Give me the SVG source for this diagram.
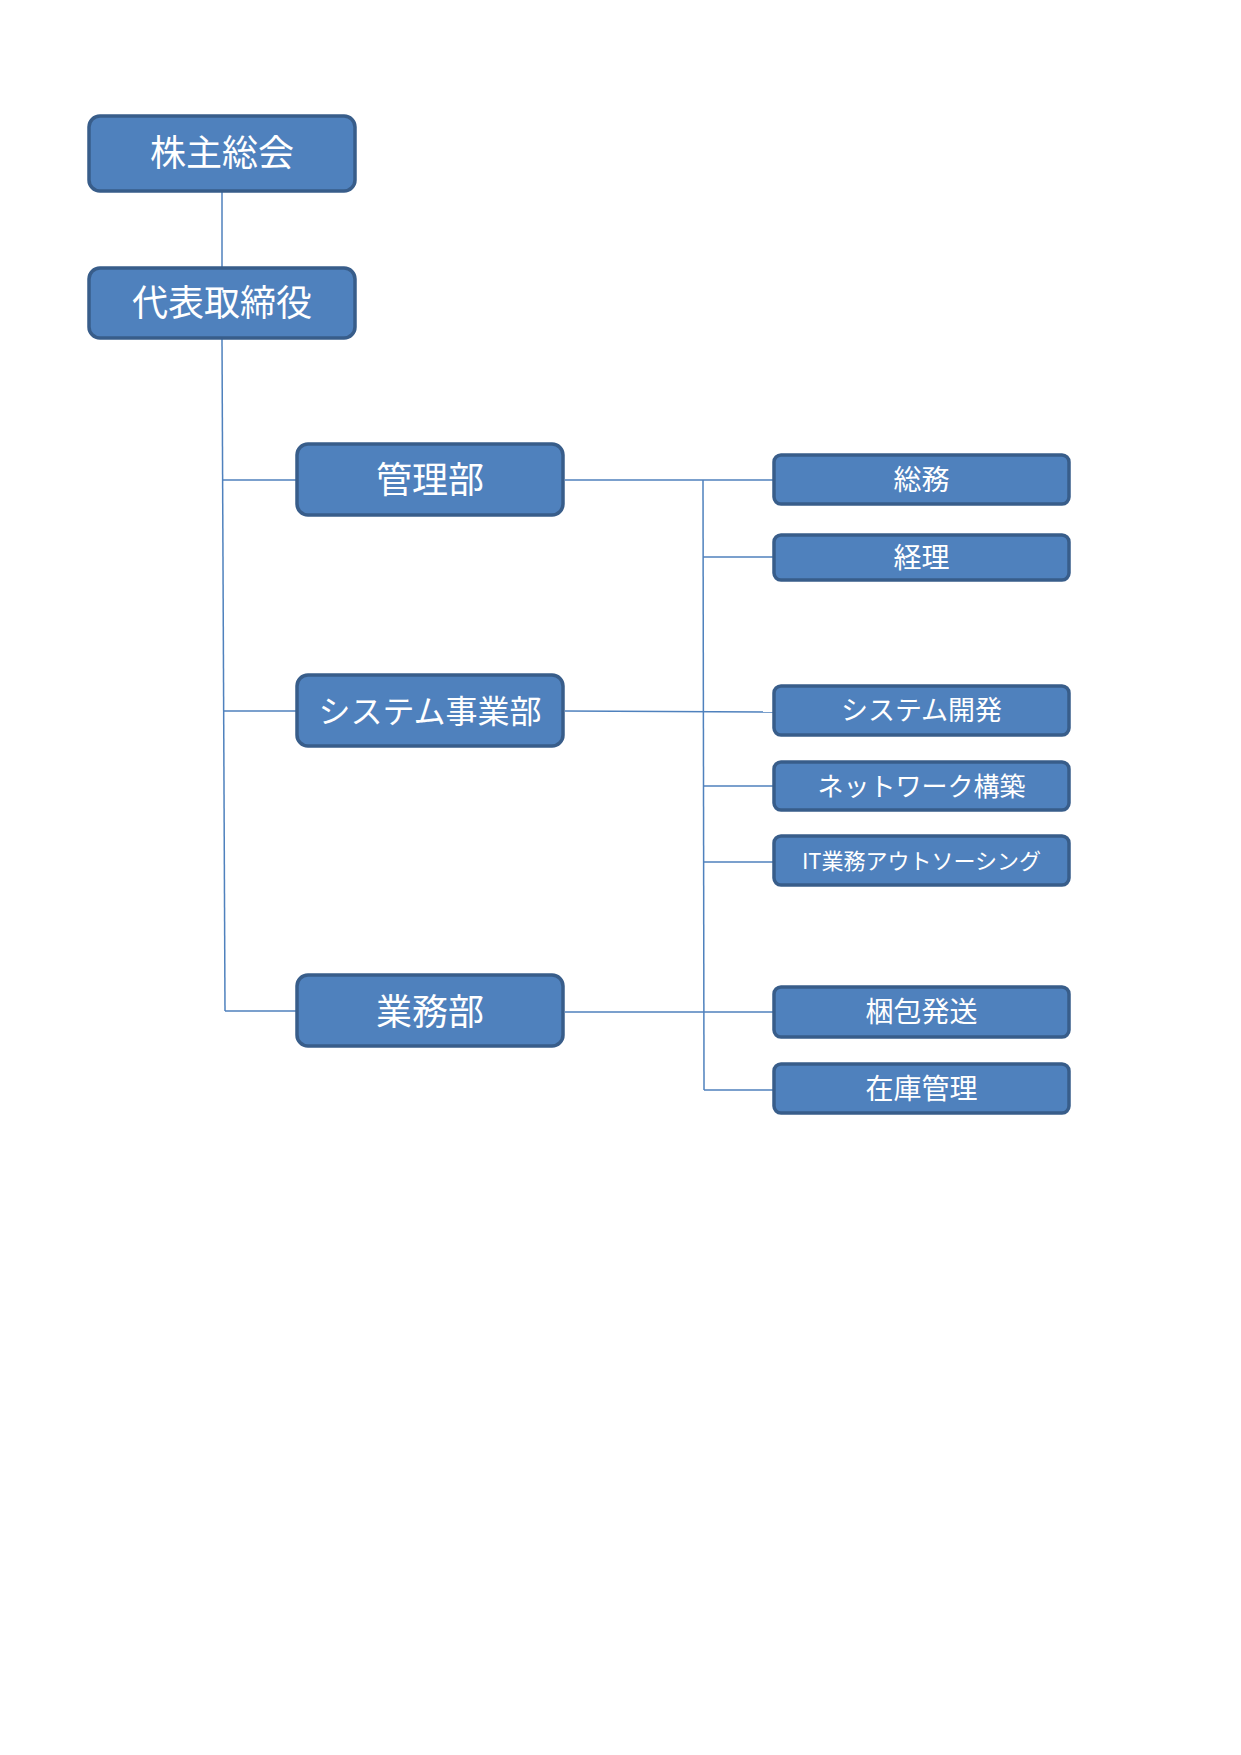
<svg xmlns="http://www.w3.org/2000/svg" width="1241" height="1755" viewBox="0 0 1241 1755">
<style>
.box{fill:#4F81BD;stroke:#385D8A;stroke-width:3.5}
.t{fill:#FFFFFF;font-family:"Noto Sans CJK JP","Liberation Sans",sans-serif;text-anchor:middle;dominant-baseline:central}
.c{stroke:#4F81BD;stroke-width:1.5;fill:none}
</style>
<rect width="1241" height="1755" fill="#FFFFFF"/>
<g id="connectors">
<path class="c" d="M222,191 L222,268"/>
<path class="c" d="M222,339 L225,1011"/>
<path class="c" d="M223,480 L297,480"/>
<path class="c" d="M224,711 L297,711"/>
<path class="c" d="M225,1011 L297,1011"/>
<path class="c" d="M703,480 L704,1090"/>
<path class="c" d="M565,480 L774,480"/>
<path class="c" d="M703,557 L774,557"/>
<path class="c" d="M565,711 L774,712"/>
<path class="c" d="M703,786 L774,786"/>
<path class="c" d="M703,862 L774,862"/>
<path class="c" d="M565,1012 L774,1012"/>
<path class="c" d="M704,1090 L774,1090"/>
</g>
<g id="n1"><rect class="box" x="89" y="116" width="266" height="75" rx="11"/><text class="t" x="222" y="150" font-size="36">株主総会</text></g>
<g id="n2"><rect class="box" x="89" y="268" width="266" height="70" rx="11"/><text class="t" x="222" y="300" font-size="36">代表取締役</text></g>
<g id="n3"><rect class="box" x="297" y="444" width="266" height="71" rx="11"/><text class="t" x="430" y="477" font-size="36">管理部</text></g>
<g id="n4"><rect class="box" x="297" y="675" width="266" height="71" rx="11"/><text class="t" x="430" y="709" font-size="32">システム事業部</text></g>
<g id="n5"><rect class="box" x="297" y="975" width="266" height="71" rx="11"/><text class="t" x="430" y="1008.5" font-size="36">業務部</text></g>
<g id="n6"><rect class="box" x="774" y="455" width="295" height="49" rx="7"/><text class="t" x="921.5" y="477.5" font-size="28">総務</text></g>
<g id="n7"><rect class="box" x="774" y="535" width="295" height="45" rx="7"/><text class="t" x="921.5" y="555.5" font-size="28">経理</text></g>
<g id="n8"><rect class="box" x="774" y="686" width="295" height="49" rx="7"/><text class="t" x="921.5" y="708.5" font-size="27">システム開発</text></g>
<g id="n9"><rect class="box" x="774" y="762" width="295" height="48" rx="7"/><text class="t" x="921.5" y="784" font-size="26">ネットワーク構築</text></g>
<g id="n10"><rect class="box" x="774" y="836" width="295" height="49" rx="7"/><text class="t" x="921.5" y="859" font-size="22">IT業務アウトソーシング</text></g>
<g id="n11"><rect class="box" x="774" y="987" width="295" height="50" rx="7"/><text class="t" x="921.5" y="1010" font-size="28">梱包発送</text></g>
<g id="n12"><rect class="box" x="774" y="1064" width="295" height="49" rx="7"/><text class="t" x="921.5" y="1086.5" font-size="28">在庫管理</text></g>
</svg>
